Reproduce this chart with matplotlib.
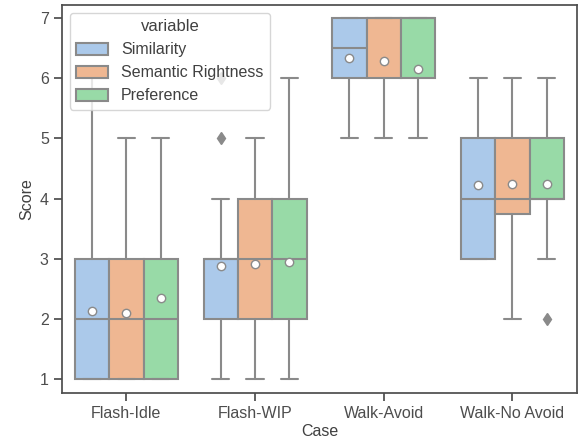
import numpy as np
import matplotlib
matplotlib.use("Agg")
import matplotlib.pyplot as plt
import seaborn as sns

# data
cases = ["Flash-Idle", "Flash-WIP", "Walk-Avoid", "Walk-No Avoid"]
variables = ["Similarity", "Semantic Rightness", "Preference"]

whislo = {"Similarity": [1, 1, 5, 3],
          "Semantic Rightness": [1, 1, 5, 2],
          "Preference": [1, 1, 5, 3]}
q1 = {"Similarity": [1, 2, 6, 3],
      "Semantic Rightness": [1, 2, 6, 3.75],
      "Preference": [1, 2, 6, 4]}
med = {"Similarity": [2, 3, 6.5, 4],
       "Semantic Rightness": [2, 3, 7, 4],
       "Preference": [2, 3, 7, 4]}
q3 = {"Similarity": [3, 3, 7, 5],
      "Semantic Rightness": [3, 4, 7, 5],
      "Preference": [3, 4, 7, 5]}
whishi = {"Similarity": [6, 4, 7, 6],
          "Semantic Rightness": [5, 5, 7, 6],
          "Preference": [5, 6, 7, 6]}
means = {"Similarity": [2.13, 2.88, 6.33, 4.22],
         "Semantic Rightness": [2.1, 2.91, 6.28, 4.25],
         "Preference": [2.35, 2.94, 6.15, 4.25]}
fliers = {"Similarity": [[], [5, 6], [], []],
          "Semantic Rightness": [[], [], [], []],
          "Preference": [[], [], [], [2]]}

sns.set_theme(style="ticks")
plt.rcParams["font.family"] = ["Liberation Sans", "DejaVu Sans"]
plt.rcParams["axes.labelsize"] = 11.5
plt.rcParams["xtick.labelsize"] = 11.5
plt.rcParams["ytick.labelsize"] = 11.5
plt.rcParams["legend.fontsize"] = 11.5
plt.rcParams["legend.title_fontsize"] = 12
plt.rcParams["text.color"] = ".25"
plt.rcParams["axes.labelcolor"] = ".25"
plt.rcParams["xtick.color"] = ".3"
plt.rcParams["ytick.color"] = ".3"
plt.rcParams["axes.edgecolor"] = ".3"
colors = [sns.desaturate(c, 0.75) for c in sns.color_palette("pastel", 3)]
gray = "#8a8a8a"

fig, ax = plt.subplots(figsize=(5.85, 4.42), dpi=100)

w = 0.8 / len(variables)
for j, v in enumerate(variables):
    stats = []
    for i in range(len(cases)):
        stats.append(dict(whislo=whislo[v][i], q1=q1[v][i], med=med[v][i],
                          q3=q3[v][i], whishi=whishi[v][i], mean=means[v][i],
                          fliers=fliers[v][i]))
    pos = np.arange(len(cases)) - 0.4 + w / 2 + j * w
    ax.bxp(stats, positions=pos, widths=w, patch_artist=True, showmeans=True,
           boxprops=dict(facecolor=colors[j], edgecolor=gray, linewidth=1.5),
           medianprops=dict(color=gray, linewidth=1.5),
           whiskerprops=dict(color=gray, linewidth=1.5),
           capprops=dict(color=gray, linewidth=1.5),
           flierprops=dict(marker="d", markerfacecolor=gray, markeredgecolor=gray, markersize=6),
           meanprops=dict(marker="o", markerfacecolor="white", markeredgecolor=gray, markersize=6),
           capwidths=w / 2)

ax.set_xticks(range(len(cases)))
ax.set_xticklabels(cases)
ax.set_xlim(-0.5, len(cases) - 0.5)
ax.set_ylim(0.77, 7.22)
ax.set_xlabel("Case", labelpad=2)
ax.set_ylabel("Score")

handles = [matplotlib.patches.Patch(facecolor=colors[j], edgecolor=gray, linewidth=1.5, label=v)
           for j, v in enumerate(variables)]
ax.legend(handles=handles, title="variable", loc="upper left", handleheight=0.8)

fig.subplots_adjust(left=0.106, right=0.986, top=0.989, bottom=0.111)
fig.savefig("out.png")
